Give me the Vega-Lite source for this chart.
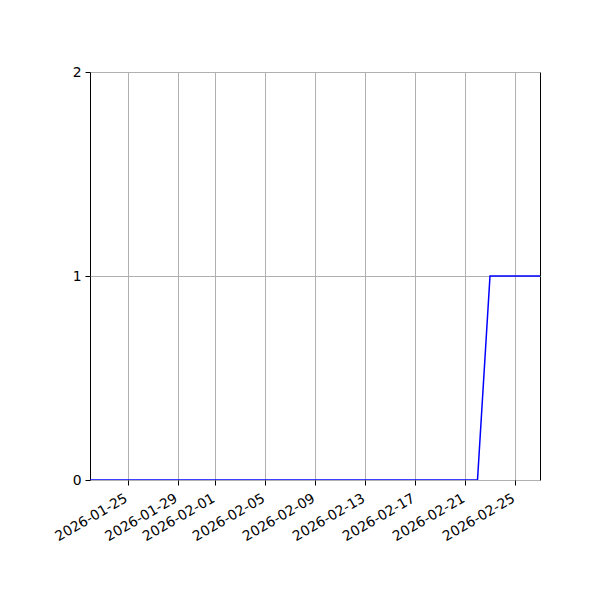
{
  "$schema": "https://vega.github.io/schema/vega-lite/v6.json",
  "width": 450,
  "height": 408,
  "autosize": {"type": "none"},
  "padding": {"left": 90, "top": 72, "right": 60, "bottom": 120},
  "background": "white",
  "config": {
    "view": {"stroke": "black", "strokeWidth": 1},
    "font": "DejaVu Sans",
    "axis": {
      "labelFont": "DejaVu Sans",
      "labelFontSize": 13.9,
      "labelColor": "black",
      "tickColor": "black",
      "tickSize": 5,
      "domain": false,
      "gridColor": "#b0b0b0",
      "gridWidth": 1,
      "title": null
    }
  },
  "data": {
    "values": [
      {"date": "2026-01-22", "value": 0},
      {"date": "2026-01-23", "value": 0},
      {"date": "2026-01-24", "value": 0},
      {"date": "2026-01-25", "value": 0},
      {"date": "2026-01-26", "value": 0},
      {"date": "2026-01-27", "value": 0},
      {"date": "2026-01-28", "value": 0},
      {"date": "2026-01-29", "value": 0},
      {"date": "2026-01-30", "value": 0},
      {"date": "2026-01-31", "value": 0},
      {"date": "2026-02-01", "value": 0},
      {"date": "2026-02-02", "value": 0},
      {"date": "2026-02-03", "value": 0},
      {"date": "2026-02-04", "value": 0},
      {"date": "2026-02-05", "value": 0},
      {"date": "2026-02-06", "value": 0},
      {"date": "2026-02-07", "value": 0},
      {"date": "2026-02-08", "value": 0},
      {"date": "2026-02-09", "value": 0},
      {"date": "2026-02-10", "value": 0},
      {"date": "2026-02-11", "value": 0},
      {"date": "2026-02-12", "value": 0},
      {"date": "2026-02-13", "value": 0},
      {"date": "2026-02-14", "value": 0},
      {"date": "2026-02-15", "value": 0},
      {"date": "2026-02-16", "value": 0},
      {"date": "2026-02-17", "value": 0},
      {"date": "2026-02-18", "value": 0},
      {"date": "2026-02-19", "value": 0},
      {"date": "2026-02-20", "value": 0},
      {"date": "2026-02-21", "value": 0},
      {"date": "2026-02-22", "value": 0},
      {"date": "2026-02-23", "value": 1},
      {"date": "2026-02-24", "value": 1},
      {"date": "2026-02-25", "value": 1},
      {"date": "2026-02-26", "value": 1},
      {"date": "2026-02-27", "value": 1}
    ]
  },
  "mark": {"type": "line", "color": "#0000ff", "strokeWidth": 1.5, "clip": true},
  "encoding": {
    "x": {
      "field": "date",
      "type": "temporal",
      "scale": {
        "type": "utc",
        "domain": [
          {"year": 2026, "month": 1, "date": 22, "utc": true},
          {"year": 2026, "month": 2, "date": 27, "utc": true}
        ]
      },
      "axis": {
        "values": [
          {"year": 2026, "month": 1, "date": 25, "utc": true},
          {"year": 2026, "month": 1, "date": 29, "utc": true},
          {"year": 2026, "month": 2, "date": 1, "utc": true},
          {"year": 2026, "month": 2, "date": 5, "utc": true},
          {"year": 2026, "month": 2, "date": 9, "utc": true},
          {"year": 2026, "month": 2, "date": 13, "utc": true},
          {"year": 2026, "month": 2, "date": 17, "utc": true},
          {"year": 2026, "month": 2, "date": 21, "utc": true},
          {"year": 2026, "month": 2, "date": 25, "utc": true}
        ],
        "format": "%Y-%m-%d",
        "labelAngle": -30,
        "labelAlign": "right",
        "labelBaseline": "top",
        "labelPadding": 6,
        "labelOffset": -5,
        "labelOverlap": false,
        "labelFlush": false,
        "grid": true
      }
    },
    "y": {
      "field": "value",
      "type": "quantitative",
      "scale": {"domain": [0, 2], "nice": false, "zero": false},
      "axis": {"values": [0, 1, 2], "labelExpr": "'' + datum.value", "tickCount": 3, "grid": true, "labelPadding": 4, "labelOverlap": false, "labelFlush": false}
    }
  }
}
